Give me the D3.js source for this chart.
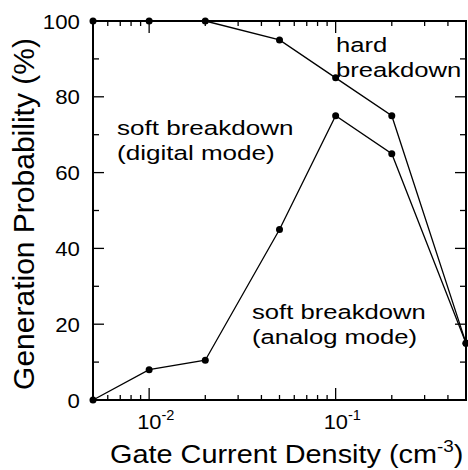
<!DOCTYPE html>
<html>
<head>
<meta charset="utf-8">
<script src="https://cdn.jsdelivr.net/npm/d3@7"></script>
<style>
  body { margin: 0; background: #fff; }
  svg text { font-family: "Liberation Sans", Arial, Helvetica, sans-serif; fill: #000; }
</style>
</head>
<body>
<svg id="chart" width="468" height="470"></svg>
<script>
// gate current density (cm^-3), log axis
const density = [0.005, 0.01, 0.02, 0.05, 0.1, 0.2, 0.5];
// generation probability (%)
const hardBreakdown = [100, 100, 100, 95, 85, 75, 15];
const softAnalog = [0, 8, 10.5, 45, 75, 65, 15];

const yTicks = [0, 20, 40, 60, 80, 100];
const yMinor = [10, 30, 50, 70, 90];
const xMajor = [0.01, 0.1];
const xMinor = [0.006, 0.007, 0.008, 0.009, 0.02, 0.03, 0.04, 0.05, 0.06, 0.07, 0.08, 0.09, 0.2, 0.3, 0.4];
const xTickLabels = [{ v: 0.01, exp: "-2" }, { v: 0.1, exp: "-1" }];

const svg = d3.select("#chart");
const plotL = 93, plotR = 466, plotT = 21, plotB = 400;

const x = d3.scaleLog().domain([0.005, 0.5]).range([plotL, plotR]);
const y = d3.scaleLinear().domain([0, 100]).range([plotB, plotT]);

// little helper: text stretched horizontally like the scanned original
function label(g, px, py, sx, size, anchor) {
    return g.append("text")
        .attr("transform", `translate(${px},${py}) scale(${sx},1)`)
        .attr("text-anchor", anchor || "start")
        .style("font-size", size + "px");
}

// inward ticks, all four sides
const ticks = svg.append("g").attr("stroke", "#000").attr("stroke-width", 1.3);
const majLen = 12, minLen = 5;

function xTicks(cls, data, y0, len) {
    ticks.selectAll("line." + cls).data(data).join("line")
        .attr("class", cls)
        .attr("x1", d => x(d)).attr("x2", d => x(d))
        .attr("y1", y0).attr("y2", y0 + len);
}
function yTickLines(cls, data, x0, len) {
    ticks.selectAll("line." + cls).data(data).join("line")
        .attr("class", cls)
        .attr("x1", x0).attr("x2", x0 + len)
        .attr("y1", d => y(d)).attr("y2", d => y(d));
}
xTicks("xmaj-b", xMajor, plotB, -majLen);
xTicks("xmin-b", xMinor, plotB, -minLen);
xTicks("xmaj-t", xMajor, plotT, majLen);
xTicks("xmin-t", xMinor, plotT, minLen);
yTickLines("ymaj-l", yTicks, plotL, 11);
yTickLines("ymin-l", yMinor, plotL, 6);
yTickLines("ymaj-r", yTicks, plotR, -11);
yTickLines("ymin-r", yMinor, plotR, -6);

// frame
svg.append("rect")
    .attr("x", plotL).attr("y", plotT)
    .attr("width", plotR - plotL).attr("height", plotB - plotT)
    .attr("fill", "none").attr("stroke", "#000").attr("stroke-width", 2);

// y tick labels
const yl = svg.append("g");
yTicks.forEach(v => {
    label(yl, 80, y(v) + 7.5, 1.06, 21, "end").text(v);
});

// x tick labels 10^n
const xl = svg.append("g");
xTickLabels.forEach(t => {
    const tx = label(xl, x(t.v) - 12, 429, 1.04, 21, "start");
    tx.append("tspan").text("10");
    tx.append("tspan").attr("dy", -9).style("font-size", "14px").text(t.exp);
});

// axis titles
const xt = label(svg, 110, 463, 1.11, 26, "start");
xt.append("tspan").text("Gate Current Density (cm");
xt.append("tspan").attr("dy", -11).style("font-size", "17px").text("-3");
xt.append("tspan").attr("dy", 11).text(")");

svg.append("text")
    .attr("transform", `translate(34,214) rotate(-90)`)
    .attr("text-anchor", "middle")
    .style("font-size", "30px")
    .text("Generation Probability (%)");

// data lines
const line = d3.line().x((d, i) => x(density[i])).y(d => y(d));

[hardBreakdown, softAnalog].forEach(series => {
    svg.append("path")
        .datum(series)
        .attr("d", line)
        .attr("fill", "none")
        .attr("stroke", "#000")
        .attr("stroke-width", 1.3);

    svg.append("g").selectAll("circle")
        .data(series)
        .join("circle")
        .attr("cx", (d, i) => x(density[i]))
        .attr("cy", d => y(d))
        .attr("r", 3.5)
        .attr("fill", "#000");
});

// annotations
const notes = svg.append("g");
label(notes, 336, 52, 1.25, 20.5).text("hard");
label(notes, 336, 77, 1.25, 20.5).text("breakdown");
label(notes, 117, 135, 1.27, 20.5).text("soft breakdown");
label(notes, 117, 160, 1.27, 20.5).text("(digital mode)");
label(notes, 252, 319, 1.25, 20.5).text("soft breakdown");
label(notes, 252, 344, 1.25, 20.5).text("(analog mode)");
</script>
</body>
</html>
